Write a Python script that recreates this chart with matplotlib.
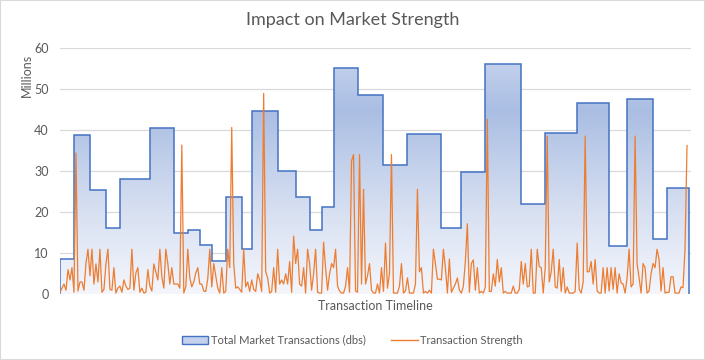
import numpy as np
import matplotlib
matplotlib.use('Agg')
import matplotlib.pyplot as plt
from matplotlib.colors import LinearSegmentedColormap
from matplotlib.patches import Patch, Rectangle
from matplotlib.lines import Line2D

# step edges (time index) and total market transactions per period (millions)
period_edges = [0, 7, 15, 23, 30, 45, 57, 64, 70, 76, 83, 91, 96, 109, 118, 125, 131,
                137, 149, 162, 174, 191, 201, 213, 231, 243, 259, 275, 284, 297, 304, 315]
total_transactions = [8.7, 38.8, 25.4, 16.1, 28.1, 40.6, 15.0, 15.8, 12.0, 8.1, 23.7,
                      11.0, 44.7, 30.1, 23.7, 15.6, 21.2, 55.2, 48.6, 31.5, 39.1, 16.1,
                      29.9, 56.2, 22.0, 39.3, 46.7, 11.8, 47.7, 13.4, 25.9]

# transaction strength (millions), one value per time index
strength = [
    0.5, 1.5, 2.5, 1.0, 6.0, 3.5, 6.5, 0.5, 34.5, 0.8,
    3.0, 3.0, 1.0, 7.5, 11.0, 4.5, 11.0, 2.5, 7.4, 3.0,
    11.0, 0.5, 1.2, 7.4, 11.0, 1.2, 1.0, 6.5, 0.3, 1.5,
    2.0, 0.5, 3.5, 2.0, 1.2, 1.5, 11.0, 1.0, 5.2, 6.5,
    0.5, 1.5, 0.3, 0.5, 6.0, 2.0, 0.8, 7.4, 5.5, 3.5,
    11.0, 4.3, 1.5, 11.0, 7.5, 2.5, 6.5, 2.5, 2.5, 2.5,
    1.5, 36.4, 0.3, 1.8, 11.0, 4.0, 1.8, 3.0, 5.2, 6.5,
    2.5, 2.5, 0.8, 0.7, 3.8, 11.0, 1.8, 7.5, 4.5, 1.5,
    0.3, 6.5, 0.3, 0.7, 11.0, 6.5, 40.7, 7.5, 1.5, 1.8,
    1.2, 0.5, 11.0, 1.8, 3.0, 0.7, 3.5, 1.2, 0.7, 5.0,
    3.5, 0.7, 49.0, 5.5, 4.0, 0.3, 0.7, 6.5, 0.5, 11.0,
    2.5, 3.5, 2.5, 5.0, 2.5, 8.0, 0.5, 14.2, 7.5, 11.0,
    2.5, 2.0, 6.5, 0.3, 11.0, 7.5, 1.0, 5.0, 11.0, 0.5,
    0.3, 0.3, 12.7, 6.5, 1.0, 5.0, 7.5, 6.5, 11.0, 2.0,
    0.8, 0.3, 0.3, 2.0, 6.5, 0.5, 32.5, 34.1, 0.8, 0.5,
    34.1, 2.5, 25.6, 2.5, 4.5, 7.5, 1.0, 0.3, 0.3, 2.5,
    0.3, 6.5, 0.7, 12.5, 1.5, 5.0, 34.1, 0.3, 0.3, 0.3,
    2.0, 7.5, 0.3, 0.8, 4.0, 0.3, 0.3, 0.3, 2.5, 25.6,
    5.5, 6.5, 0.3, 0.7, 0.3, 1.0, 0.3, 11.0, 7.5, 3.7,
    3.7, 3.5, 11.0, 6.5, 0.3, 8.6, 0.5, 1.5, 2.5, 4.0,
    1.0, 0.3, 2.0, 8.0, 17.2, 0.5, 7.5, 8.4, 1.0, 6.5,
    0.3, 0.7, 0.3, 1.8, 42.7, 0.7, 0.7, 5.0, 2.0, 8.5,
    3.0, 6.5, 0.3, 0.7, 0.3, 0.3, 0.3, 2.0, 0.3, 0.3,
    1.2, 8.0, 2.5, 7.5, 1.8, 2.0, 11.0, 0.3, 0.3, 11.0,
    6.8, 6.5, 0.3, 6.5, 38.6, 3.0, 5.5, 11.0, 1.8, 1.5,
    8.5, 0.7, 6.5, 0.3, 1.8, 0.3, 0.3, 0.3, 0.7, 12.5,
    1.2, 0.3, 3.0, 38.6, 5.5, 5.5, 8.0, 2.5, 8.5, 0.8,
    0.3, 0.3, 6.5, 0.3, 6.5, 0.8, 6.5, 1.2, 6.5, 0.3,
    5.0, 2.8, 2.5, 0.3, 4.0, 11.0, 1.8, 2.5, 38.6, 7.5,
    4.0, 0.3, 7.5, 6.5, 0.3, 0.8, 5.0, 7.5, 6.5, 11.0,
    8.5, 0.8, 6.5, 0.3, 0.5, 0.5, 4.3, 4.3, 0.3, 0.3,
    0.3, 1.8, 1.6, 11.0, 36.3,
]

y_ticks = [0, 10, 20, 30, 40, 50, 60]

text_color = '#595959'
blue = '#4472C4'
orange = '#ED7D31'

plt.rcParams['font.family'] = ['Lato', 'DejaVu Sans']

fig = plt.figure(figsize=(7.05, 3.6), dpi=100)
ax = fig.add_axes([60 / 705, 1 - 294.3 / 360, 631 / 705, (294.3 - 48.3) / 360])

# gradient fill clipped to the step area
grad = LinearSegmentedColormap.from_list('g', [(0.0, '#F4F6FC'), (0.35, '#D6DFF1'),
                                               (0.75, '#AABEE3'), (1.0, '#CAD6EE')])
area = ax.stairs(total_transactions, period_edges, baseline=0, fill=True,
                 facecolor='none', edgecolor='none')
img = ax.imshow(np.linspace(0, 1, 256).reshape(-1, 1), cmap=grad, origin='lower',
                extent=[0, 315, 0, 60], aspect='auto', zorder=1)
img.set_clip_path(area)
ax.stairs(total_transactions, period_edges, baseline=0, color=blue, lw=1.1, zorder=2)

ax.plot(np.arange(len(strength)), strength, color=orange, lw=0.9, zorder=3)

ax.set_xlim(0, 316)
ax.set_ylim(0, 60)
ax.set_yticks(y_ticks)
ax.set_xticks([])
ax.grid(axis='y', color='#D9D9D9', lw=0.9)
ax.set_axisbelow(True)
for s in ax.spines.values():
    s.set_visible(False)
ax.tick_params(axis='y', length=0, labelsize=9, labelcolor=text_color, pad=8)
ax.set_xlabel('Transaction Timeline', fontsize=9, color=text_color, labelpad=4)

fig.text(0.5, 1 - 20 / 360, 'Impact on Market Strength', ha='center', va='center',
         fontsize=13, color=text_color)
fig.text(27 / 705, 1 - 75 / 360, 'Millions', rotation=90, ha='center', va='center',
         fontsize=9, color=text_color)

handles = [Patch(facecolor='#C3D1EC', edgecolor=blue, lw=1.0),
           Line2D([], [], color=orange, lw=1.0)]
fig.legend(handles, ['Total Market Transactions (dbs)', 'Transaction Strength'],
           loc='center', bbox_to_anchor=(0.5, 1 - 340 / 360), ncol=2, frameon=False,
           fontsize=8, labelcolor=text_color, handlelength=2.35, columnspacing=2.3,
           handletextpad=0.25)

fig.patches.append(Rectangle((0, 0), 1, 1, transform=fig.transFigure, fill=False,
                             edgecolor='#D9D9D9', lw=1.5))

fig.savefig('out.png', dpi=100)
